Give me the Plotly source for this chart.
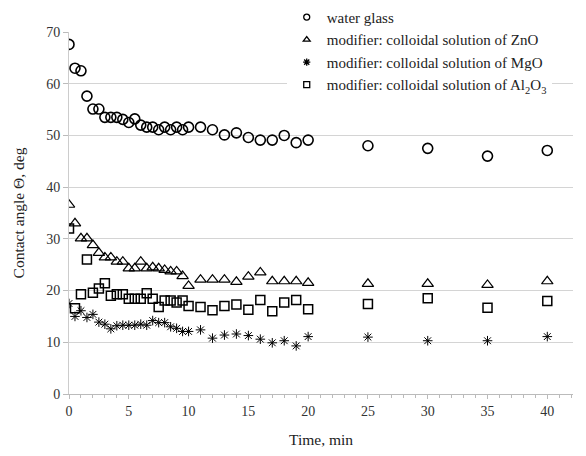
import plotly.graph_objects as go

# Time, min
t_fine = [0, 0.5, 1, 1.5, 2, 2.5, 3, 3.5, 4, 4.5, 5, 5.5, 6, 6.5, 7, 7.5, 8, 8.5, 9, 9.5, 10,
          11, 12, 13, 14, 15, 16, 17, 18, 19, 20, 25, 30, 35, 40]

water_glass = [67.6, 63.0, 62.5, 57.6, 55.1, 55.1, 53.5, 53.5, 53.5, 53.1, 52.5, 53.2, 52.0, 51.6,
               51.6, 51.1, 51.6, 51.1, 51.6, 51.1, 51.6,
               51.6, 51.1, 50.1, 50.5, 49.6, 49.1, 49.1, 50.0, 48.6, 49.1, 48.0, 47.5, 46.0, 47.1]

zno = [36.6, 33.0, 30.1, 30.1, 28.8, 27.3, 26.4, 26.4, 25.6, 25.6, 24.3, 24.3, 25.6, 24.3,
       24.5, 24.3, 24.0, 23.7, 23.7, 22.8, 20.9,
       22.1, 22.1, 22.1, 21.7, 22.7, 23.5, 21.8, 21.8, 21.8, 21.5, 21.3, 21.3, 21.1, 21.8]

mgo = [17.5, 15.0, 16.1, 14.8, 15.4, 13.9, 13.5, 12.6, 13.2, 13.3, 13.3, 13.3, 13.5, 13.3,
       14.2, 13.8, 13.8, 13.0, 12.7, 12.1, 12.1,
       12.4, 10.8, 11.4, 11.6, 11.3, 10.6, 9.9, 10.3, 9.3, 11.1, 11.0, 10.3, 10.3, 11.1]

al2o3 = [32.0, 16.6, 19.3, 26.0, 19.6, 20.4, 21.4, 19.0, 19.3, 19.3, 18.4, 18.4, 18.4, 19.5,
         18.4, 16.8, 18.1, 18.1, 17.7, 18.1, 17.0,
         16.8, 16.2, 17.0, 17.3, 16.3, 18.2, 16.0, 17.7, 18.2, 16.4, 17.4, 18.5, 16.7, 18.0]

series = [
    ("water glass", water_glass, "circle-open", 10, 1.6),
    ("modifier: colloidal solution of ZnO", zno, "triangle-up-open", 10, 1.2),
    ("modifier: colloidal solution of MgO", mgo, "asterisk-open", 8, 1.0),
    ("modifier: colloidal solution of Al<sub>2</sub>O<sub>3</sub>", al2o3, "square-open", 9, 1.5),
]

FONT = "Liberation Serif"
fig = go.Figure()
for name, vals, sym, size, lw in series:
    fig.add_trace(go.Scatter(
        x=t_fine, y=vals, mode="markers", name=name, showlegend=False,
        marker=dict(symbol=sym, size=size, color="black", line=dict(color="black", width=lw)),
    ))
    # legend entry with smaller symbol
    fig.add_trace(go.Scatter(
        x=[None], y=[None], mode="markers", name=name,
        marker=dict(symbol=sym, size=6, color="black", line=dict(color="black", width=1.3)),
    ))

# page body adds an 8px offset, so the figure is 8px smaller on each axis
fig.update_layout(
    width=578, height=448,
    margin=dict(l=61, r=13, t=24, b=62, autoexpand=False),
    paper_bgcolor="white", plot_bgcolor="white",
    font=dict(family=FONT, size=14, color="#333"),
    legend=dict(x=0.432, y=1.086, xanchor="left", yanchor="top",
                bgcolor="white", font=dict(family=FONT, size=15, color="#222"),
                tracegroupgap=0, itemwidth=30),
    xaxis=dict(range=[0, 42.15], tickmode="linear", tick0=0, dtick=5, automargin=False,
               showgrid=False, zeroline=False, showline=True, linecolor="#bbb", linewidth=1,
               ticks="outside", ticklen=4, tickcolor="#bbb",
               minor=dict(dtick=1, ticks="outside", ticklen=3, tickcolor="#bbb", showgrid=False),
               title=dict(text="Time, min", font=dict(family=FONT, size=15.5, color="#222"), standoff=16)),
    yaxis=dict(range=[0, 70], tickmode="linear", tick0=0, dtick=10, automargin=False,
               showgrid=True, gridcolor="#d4d4d4", gridwidth=1, zeroline=False,
               showline=True, linecolor="#ccc", linewidth=1,
               ticks="outside", ticklen=5, tickcolor="#bbb",
               title=dict(text="Contact angle Θ, deg", font=dict(family=FONT, size=15.5, color="#222"), standoff=17)),
)

fig.write_html("out.html")
